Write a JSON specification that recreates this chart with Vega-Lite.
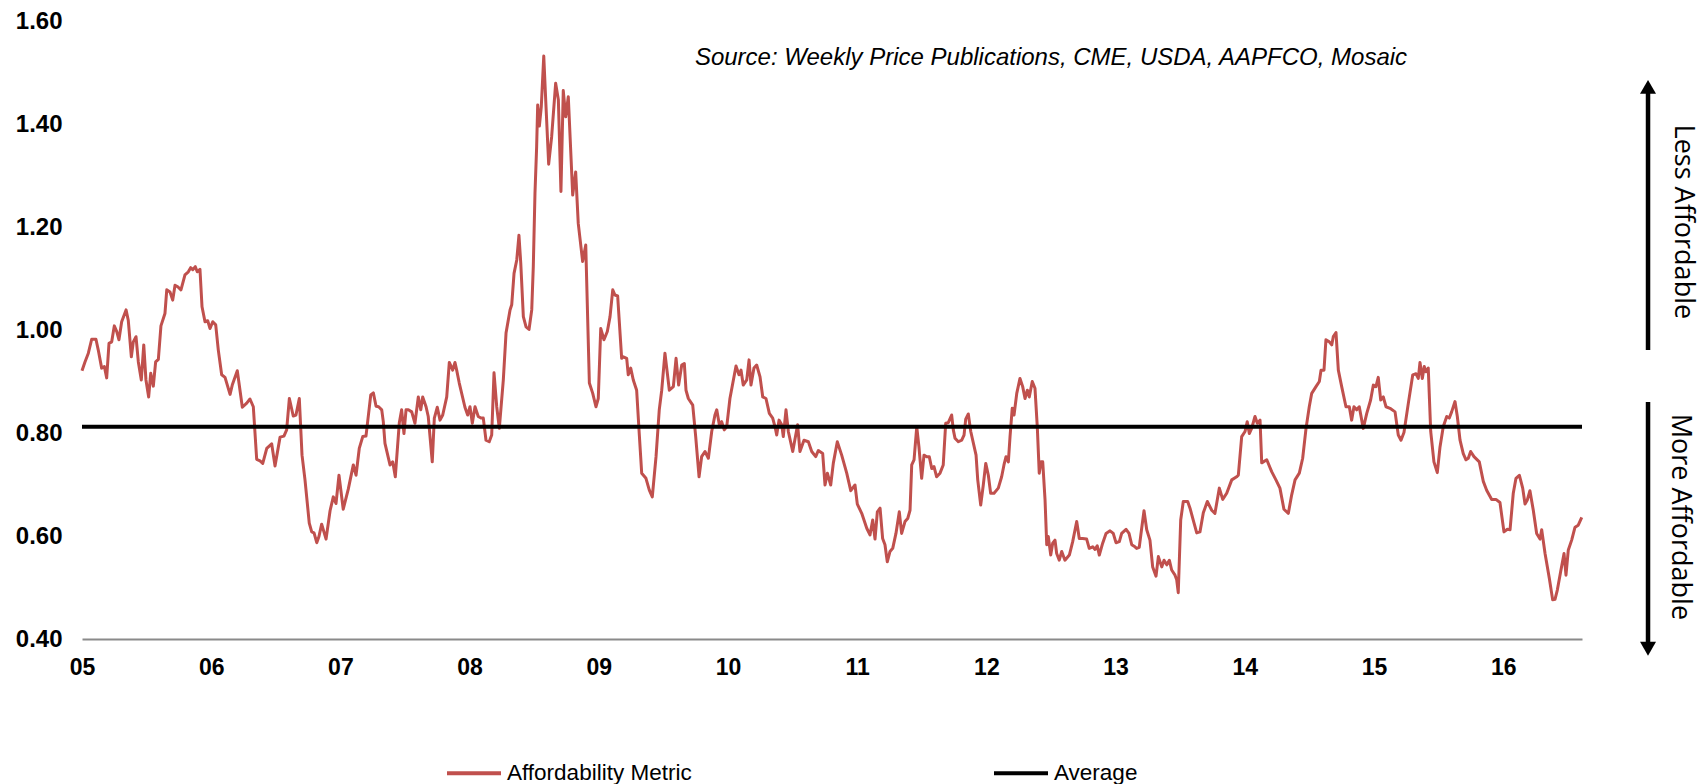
{
  "$schema": "https://vega.github.io/schema/vega-lite/v6.json",
  "autosize": {"type": "none"},
  "padding": {"left": 82, "top": 21, "right": 124, "bottom": 145},
  "width": 1500,
  "height": 618,
  "background": "white",
  "config": {"view": {"stroke": null}},
  "datasets": {
    "metric": [
      {"t":2005.000,"v":0.921},{"t":2005.023,"v":0.938},{"t":2005.049,"v":0.955},{"t":2005.075,"v":0.982},{"t":2005.108,"v":0.982},{"t":2005.126,"v":0.961},{"t":2005.152,"v":0.926},{"t":2005.173,"v":0.929},{"t":2005.191,"v":0.907},{"t":2005.209,"v":0.974},{"t":2005.230,"v":0.977},{"t":2005.250,"v":1.008},{"t":2005.269,"v":0.997},{"t":2005.286,"v":0.981},{"t":2005.307,"v":1.016},{"t":2005.341,"v":1.039},{"t":2005.358,"v":1.019},{"t":2005.382,"v":0.948},{"t":2005.397,"v":0.977},{"t":2005.418,"v":0.987},{"t":2005.436,"v":0.938},{"t":2005.459,"v":0.903},{"t":2005.478,"v":0.971},{"t":2005.495,"v":0.903},{"t":2005.516,"v":0.870},{"t":2005.532,"v":0.916},{"t":2005.552,"v":0.891},{"t":2005.570,"v":0.938},{"t":2005.591,"v":0.943},{"t":2005.611,"v":1.008},{"t":2005.642,"v":1.032},{"t":2005.656,"v":1.078},{"t":2005.681,"v":1.074},{"t":2005.702,"v":1.058},{"t":2005.720,"v":1.087},{"t":2005.741,"v":1.084},{"t":2005.766,"v":1.078},{"t":2005.797,"v":1.107},{"t":2005.823,"v":1.113},{"t":2005.841,"v":1.121},{"t":2005.857,"v":1.117},{"t":2005.877,"v":1.123},{"t":2005.892,"v":1.113},{"t":2005.913,"v":1.118},{"t":2005.929,"v":1.045},{"t":2005.952,"v":1.016},{"t":2005.973,"v":1.018},{"t":2005.991,"v":1.003},{"t":2006.012,"v":1.016},{"t":2006.035,"v":1.010},{"t":2006.055,"v":0.961},{"t":2006.081,"v":0.913},{"t":2006.107,"v":0.908},{"t":2006.146,"v":0.875},{"t":2006.163,"v":0.893},{"t":2006.202,"v":0.921},{"t":2006.241,"v":0.850},{"t":2006.275,"v":0.858},{"t":2006.300,"v":0.866},{"t":2006.326,"v":0.851},{"t":2006.352,"v":0.749},{"t":2006.378,"v":0.746},{"t":2006.399,"v":0.741},{"t":2006.430,"v":0.770},{"t":2006.468,"v":0.779},{"t":2006.494,"v":0.736},{"t":2006.533,"v":0.792},{"t":2006.563,"v":0.794},{"t":2006.584,"v":0.806},{"t":2006.605,"v":0.867},{"t":2006.635,"v":0.833},{"t":2006.656,"v":0.835},{"t":2006.682,"v":0.867},{"t":2006.703,"v":0.757},{"t":2006.726,"v":0.709},{"t":2006.759,"v":0.625},{"t":2006.778,"v":0.608},{"t":2006.796,"v":0.606},{"t":2006.817,"v":0.587},{"t":2006.834,"v":0.599},{"t":2006.855,"v":0.623},{"t":2006.889,"v":0.594},{"t":2006.920,"v":0.649},{"t":2006.945,"v":0.676},{"t":2006.966,"v":0.663},{"t":2006.989,"v":0.718},{"t":2007.022,"v":0.652},{"t":2007.061,"v":0.691},{"t":2007.100,"v":0.738},{"t":2007.121,"v":0.718},{"t":2007.146,"v":0.770},{"t":2007.173,"v":0.793},{"t":2007.198,"v":0.794},{"t":2007.235,"v":0.874},{"t":2007.255,"v":0.878},{"t":2007.276,"v":0.852},{"t":2007.296,"v":0.851},{"t":2007.320,"v":0.845},{"t":2007.332,"v":0.822},{"t":2007.345,"v":0.780},{"t":2007.384,"v":0.738},{"t":2007.405,"v":0.744},{"t":2007.425,"v":0.715},{"t":2007.456,"v":0.820},{"t":2007.474,"v":0.845},{"t":2007.492,"v":0.799},{"t":2007.508,"v":0.845},{"t":2007.526,"v":0.845},{"t":2007.552,"v":0.841},{"t":2007.577,"v":0.819},{"t":2007.603,"v":0.870},{"t":2007.622,"v":0.845},{"t":2007.637,"v":0.870},{"t":2007.663,"v":0.851},{"t":2007.680,"v":0.832},{"t":2007.711,"v":0.744},{"t":2007.727,"v":0.829},{"t":2007.750,"v":0.850},{"t":2007.771,"v":0.825},{"t":2007.792,"v":0.835},{"t":2007.823,"v":0.870},{"t":2007.843,"v":0.937},{"t":2007.869,"v":0.922},{"t":2007.887,"v":0.937},{"t":2007.900,"v":0.922},{"t":2007.920,"v":0.897},{"t":2007.964,"v":0.850},{"t":2007.985,"v":0.835},{"t":2008.003,"v":0.851},{"t":2008.021,"v":0.819},{"t":2008.042,"v":0.851},{"t":2008.067,"v":0.832},{"t":2008.088,"v":0.829},{"t":2008.106,"v":0.829},{"t":2008.127,"v":0.786},{"t":2008.152,"v":0.783},{"t":2008.171,"v":0.796},{"t":2008.189,"v":0.917},{"t":2008.210,"v":0.851},{"t":2008.230,"v":0.809},{"t":2008.261,"v":0.903},{"t":2008.282,"v":0.994},{"t":2008.313,"v":1.039},{"t":2008.326,"v":1.049},{"t":2008.344,"v":1.110},{"t":2008.365,"v":1.136},{"t":2008.382,"v":1.184},{"t":2008.396,"v":1.130},{"t":2008.416,"v":1.026},{"t":2008.437,"v":1.006},{"t":2008.460,"v":1.001},{"t":2008.481,"v":1.039},{"t":2008.493,"v":1.123},{"t":2008.506,"v":1.265},{"t":2008.519,"v":1.356},{"t":2008.527,"v":1.437},{"t":2008.540,"v":1.396},{"t":2008.555,"v":1.434},{"t":2008.574,"v":1.532},{"t":2008.589,"v":1.447},{"t":2008.612,"v":1.322},{"t":2008.635,"v":1.375},{"t":2008.666,"v":1.479},{"t":2008.687,"v":1.447},{"t":2008.707,"v":1.269},{"t":2008.725,"v":1.465},{"t":2008.744,"v":1.414},{"t":2008.764,"v":1.453},{"t":2008.798,"v":1.262},{"t":2008.821,"v":1.307},{"t":2008.841,"v":1.207},{"t":2008.875,"v":1.133},{"t":2008.899,"v":1.165},{"t":2008.927,"v":0.897},{"t":2008.953,"v":0.877},{"t":2008.978,"v":0.851},{"t":2008.996,"v":0.867},{"t":2009.015,"v":1.003},{"t":2009.040,"v":0.981},{"t":2009.066,"v":0.997},{"t":2009.087,"v":1.026},{"t":2009.108,"v":1.078},{"t":2009.125,"v":1.068},{"t":2009.146,"v":1.066},{"t":2009.177,"v":0.945},{"t":2009.190,"v":0.948},{"t":2009.216,"v":0.945},{"t":2009.228,"v":0.913},{"t":2009.247,"v":0.926},{"t":2009.267,"v":0.903},{"t":2009.293,"v":0.883},{"t":2009.313,"v":0.799},{"t":2009.332,"v":0.722},{"t":2009.365,"v":0.712},{"t":2009.391,"v":0.689},{"t":2009.414,"v":0.676},{"t":2009.443,"v":0.754},{"t":2009.468,"v":0.845},{"t":2009.487,"v":0.883},{"t":2009.512,"v":0.955},{"t":2009.546,"v":0.883},{"t":2009.577,"v":0.890},{"t":2009.598,"v":0.945},{"t":2009.618,"v":0.893},{"t":2009.642,"v":0.932},{"t":2009.662,"v":0.935},{"t":2009.675,"v":0.883},{"t":2009.693,"v":0.867},{"t":2009.727,"v":0.854},{"t":2009.750,"v":0.793},{"t":2009.776,"v":0.715},{"t":2009.796,"v":0.754},{"t":2009.822,"v":0.764},{"t":2009.848,"v":0.751},{"t":2009.874,"v":0.803},{"t":2009.899,"v":0.835},{"t":2009.913,"v":0.845},{"t":2009.933,"v":0.816},{"t":2009.951,"v":0.822},{"t":2009.971,"v":0.806},{"t":2009.990,"v":0.812},{"t":2010.015,"v":0.867},{"t":2010.062,"v":0.930},{"t":2010.085,"v":0.913},{"t":2010.101,"v":0.922},{"t":2010.118,"v":0.893},{"t":2010.145,"v":0.903},{"t":2010.163,"v":0.942},{"t":2010.178,"v":0.893},{"t":2010.201,"v":0.926},{"t":2010.222,"v":0.932},{"t":2010.248,"v":0.909},{"t":2010.269,"v":0.870},{"t":2010.294,"v":0.867},{"t":2010.320,"v":0.838},{"t":2010.346,"v":0.829},{"t":2010.364,"v":0.812},{"t":2010.377,"v":0.796},{"t":2010.395,"v":0.825},{"t":2010.416,"v":0.816},{"t":2010.428,"v":0.793},{"t":2010.449,"v":0.845},{"t":2010.467,"v":0.803},{"t":2010.501,"v":0.764},{"t":2010.539,"v":0.816},{"t":2010.557,"v":0.764},{"t":2010.588,"v":0.786},{"t":2010.622,"v":0.783},{"t":2010.648,"v":0.764},{"t":2010.679,"v":0.754},{"t":2010.699,"v":0.766},{"t":2010.733,"v":0.760},{"t":2010.751,"v":0.699},{"t":2010.769,"v":0.722},{"t":2010.795,"v":0.699},{"t":2010.815,"v":0.741},{"t":2010.846,"v":0.783},{"t":2010.880,"v":0.757},{"t":2010.919,"v":0.722},{"t":2010.950,"v":0.688},{"t":2010.983,"v":0.699},{"t":2011.001,"v":0.662},{"t":2011.035,"v":0.644},{"t":2011.074,"v":0.615},{"t":2011.099,"v":0.602},{"t":2011.120,"v":0.631},{"t":2011.138,"v":0.594},{"t":2011.156,"v":0.647},{"t":2011.177,"v":0.654},{"t":2011.197,"v":0.595},{"t":2011.215,"v":0.583},{"t":2011.233,"v":0.550},{"t":2011.254,"v":0.570},{"t":2011.275,"v":0.576},{"t":2011.300,"v":0.605},{"t":2011.326,"v":0.647},{"t":2011.344,"v":0.605},{"t":2011.370,"v":0.628},{"t":2011.391,"v":0.634},{"t":2011.409,"v":0.650},{"t":2011.422,"v":0.738},{"t":2011.440,"v":0.748},{"t":2011.461,"v":0.812},{"t":2011.478,"v":0.773},{"t":2011.499,"v":0.712},{"t":2011.517,"v":0.757},{"t":2011.538,"v":0.754},{"t":2011.558,"v":0.754},{"t":2011.577,"v":0.731},{"t":2011.594,"v":0.735},{"t":2011.615,"v":0.715},{"t":2011.641,"v":0.722},{"t":2011.666,"v":0.738},{"t":2011.685,"v":0.819},{"t":2011.705,"v":0.820},{"t":2011.731,"v":0.835},{"t":2011.744,"v":0.806},{"t":2011.757,"v":0.790},{"t":2011.783,"v":0.783},{"t":2011.809,"v":0.786},{"t":2011.827,"v":0.796},{"t":2011.840,"v":0.827},{"t":2011.860,"v":0.837},{"t":2011.879,"v":0.803},{"t":2011.920,"v":0.757},{"t":2011.933,"v":0.709},{"t":2011.956,"v":0.660},{"t":2011.976,"v":0.699},{"t":2011.995,"v":0.741},{"t":2012.015,"v":0.718},{"t":2012.033,"v":0.683},{"t":2012.059,"v":0.683},{"t":2012.092,"v":0.693},{"t":2012.118,"v":0.715},{"t":2012.136,"v":0.738},{"t":2012.152,"v":0.754},{"t":2012.170,"v":0.744},{"t":2012.183,"v":0.793},{"t":2012.200,"v":0.848},{"t":2012.214,"v":0.835},{"t":2012.235,"v":0.877},{"t":2012.260,"v":0.906},{"t":2012.281,"v":0.890},{"t":2012.299,"v":0.867},{"t":2012.317,"v":0.883},{"t":2012.332,"v":0.870},{"t":2012.355,"v":0.900},{"t":2012.376,"v":0.887},{"t":2012.394,"v":0.812},{"t":2012.409,"v":0.722},{"t":2012.423,"v":0.744},{"t":2012.436,"v":0.744},{"t":2012.454,"v":0.670},{"t":2012.467,"v":0.583},{"t":2012.479,"v":0.599},{"t":2012.498,"v":0.563},{"t":2012.513,"v":0.586},{"t":2012.531,"v":0.592},{"t":2012.544,"v":0.566},{"t":2012.564,"v":0.553},{"t":2012.583,"v":0.570},{"t":2012.608,"v":0.553},{"t":2012.642,"v":0.563},{"t":2012.668,"v":0.589},{"t":2012.699,"v":0.628},{"t":2012.719,"v":0.595},{"t":2012.745,"v":0.595},{"t":2012.776,"v":0.594},{"t":2012.796,"v":0.576},{"t":2012.823,"v":0.579},{"t":2012.841,"v":0.574},{"t":2012.858,"v":0.581},{"t":2012.874,"v":0.563},{"t":2012.900,"v":0.586},{"t":2012.926,"v":0.605},{"t":2012.957,"v":0.610},{"t":2012.982,"v":0.605},{"t":2013.003,"v":0.587},{"t":2013.029,"v":0.589},{"t":2013.047,"v":0.605},{"t":2013.081,"v":0.613},{"t":2013.104,"v":0.605},{"t":2013.125,"v":0.583},{"t":2013.150,"v":0.579},{"t":2013.163,"v":0.576},{"t":2013.183,"v":0.578},{"t":2013.202,"v":0.615},{"t":2013.220,"v":0.649},{"t":2013.241,"v":0.612},{"t":2013.266,"v":0.592},{"t":2013.287,"v":0.540},{"t":2013.313,"v":0.522},{"t":2013.331,"v":0.560},{"t":2013.357,"v":0.540},{"t":2013.375,"v":0.553},{"t":2013.396,"v":0.544},{"t":2013.416,"v":0.553},{"t":2013.434,"v":0.534},{"t":2013.460,"v":0.524},{"t":2013.473,"v":0.515},{"t":2013.485,"v":0.490},{"t":2013.504,"v":0.631},{"t":2013.524,"v":0.667},{"t":2013.558,"v":0.667},{"t":2013.576,"v":0.654},{"t":2013.601,"v":0.631},{"t":2013.628,"v":0.606},{"t":2013.653,"v":0.608},{"t":2013.679,"v":0.645},{"t":2013.710,"v":0.667},{"t":2013.744,"v":0.650},{"t":2013.769,"v":0.644},{"t":2013.803,"v":0.693},{"t":2013.829,"v":0.671},{"t":2013.860,"v":0.683},{"t":2013.899,"v":0.709},{"t":2013.937,"v":0.715},{"t":2013.950,"v":0.718},{"t":2013.976,"v":0.793},{"t":2014.002,"v":0.803},{"t":2014.019,"v":0.822},{"t":2014.035,"v":0.799},{"t":2014.053,"v":0.809},{"t":2014.079,"v":0.832},{"t":2014.097,"v":0.819},{"t":2014.118,"v":0.825},{"t":2014.131,"v":0.742},{"t":2014.170,"v":0.748},{"t":2014.208,"v":0.725},{"t":2014.241,"v":0.709},{"t":2014.272,"v":0.693},{"t":2014.303,"v":0.652},{"t":2014.337,"v":0.644},{"t":2014.363,"v":0.680},{"t":2014.389,"v":0.709},{"t":2014.422,"v":0.722},{"t":2014.448,"v":0.751},{"t":2014.474,"v":0.809},{"t":2014.499,"v":0.851},{"t":2014.518,"v":0.877},{"t":2014.551,"v":0.890},{"t":2014.577,"v":0.900},{"t":2014.590,"v":0.922},{"t":2014.613,"v":0.922},{"t":2014.628,"v":0.981},{"t":2014.654,"v":0.977},{"t":2014.673,"v":0.971},{"t":2014.685,"v":0.987},{"t":2014.706,"v":0.995},{"t":2014.724,"v":0.922},{"t":2014.750,"v":0.890},{"t":2014.783,"v":0.851},{"t":2014.809,"v":0.851},{"t":2014.827,"v":0.825},{"t":2014.845,"v":0.851},{"t":2014.866,"v":0.845},{"t":2014.886,"v":0.851},{"t":2014.917,"v":0.809},{"t":2014.944,"v":0.838},{"t":2014.974,"v":0.864},{"t":2014.995,"v":0.893},{"t":2015.015,"v":0.890},{"t":2015.033,"v":0.908},{"t":2015.052,"v":0.864},{"t":2015.072,"v":0.870},{"t":2015.093,"v":0.851},{"t":2015.124,"v":0.848},{"t":2015.163,"v":0.841},{"t":2015.188,"v":0.796},{"t":2015.209,"v":0.786},{"t":2015.232,"v":0.801},{"t":2015.266,"v":0.858},{"t":2015.300,"v":0.913},{"t":2015.325,"v":0.915},{"t":2015.343,"v":0.906},{"t":2015.356,"v":0.937},{"t":2015.374,"v":0.906},{"t":2015.389,"v":0.929},{"t":2015.402,"v":0.919},{"t":2015.420,"v":0.926},{"t":2015.439,"v":0.803},{"t":2015.464,"v":0.744},{"t":2015.490,"v":0.723},{"t":2015.511,"v":0.773},{"t":2015.536,"v":0.812},{"t":2015.563,"v":0.832},{"t":2015.583,"v":0.829},{"t":2015.601,"v":0.841},{"t":2015.627,"v":0.861},{"t":2015.645,"v":0.832},{"t":2015.666,"v":0.786},{"t":2015.691,"v":0.760},{"t":2015.712,"v":0.748},{"t":2015.730,"v":0.751},{"t":2015.748,"v":0.764},{"t":2015.774,"v":0.754},{"t":2015.815,"v":0.744},{"t":2015.846,"v":0.706},{"t":2015.872,"v":0.689},{"t":2015.911,"v":0.671},{"t":2015.944,"v":0.671},{"t":2015.975,"v":0.665},{"t":2016.006,"v":0.608},{"t":2016.032,"v":0.613},{"t":2016.053,"v":0.612},{"t":2016.078,"v":0.683},{"t":2016.099,"v":0.712},{"t":2016.125,"v":0.718},{"t":2016.151,"v":0.693},{"t":2016.169,"v":0.662},{"t":2016.187,"v":0.670},{"t":2016.207,"v":0.688},{"t":2016.233,"v":0.650},{"t":2016.259,"v":0.605},{"t":2016.285,"v":0.594},{"t":2016.298,"v":0.612},{"t":2016.324,"v":0.566},{"t":2016.357,"v":0.518},{"t":2016.383,"v":0.476},{"t":2016.401,"v":0.477},{"t":2016.419,"v":0.495},{"t":2016.445,"v":0.531},{"t":2016.471,"v":0.566},{"t":2016.486,"v":0.524},{"t":2016.504,"v":0.573},{"t":2016.530,"v":0.592},{"t":2016.556,"v":0.617},{"t":2016.581,"v":0.621},{"t":2016.608,"v":0.636}
    ],
    "average": [
      {"t":2005.0,"v":0.812},{"t":2016.61,"v":0.812}
    ]
  },
  "layer": [
    {
      "data": {"name": "metric"},
      "mark": {"type": "line", "strokeWidth": 3, "strokeJoin": "round", "interpolate": "linear"},
      "encoding": {
        "x": {"field": "t", "type": "quantitative",
          "scale": {"domain": [2005, 2016.61], "nice": false, "zero": false},
          "axis": {"title": null, "values": [2005,2006,2007,2008,2009,2010,2011,2012,2013,2014,2015,2016],
            "labelExpr": "substring('' + datum.value, 2, 4)", "ticks": false, "grid": false,
            "domainColor": "#8a8a8a", "domainWidth": 2, "labelFont": "Liberation Sans", "labelFontWeight": "bold",
            "labelFontSize": 23, "labelColor": "#000000", "labelPadding": 17, "labelFlush": false, "labelOverlap": false}},
        "y": {"field": "v", "type": "quantitative",
          "scale": {"domain": [0.4, 1.6], "nice": false, "zero": false},
          "axis": {"title": null, "values": [0.4,0.6,0.8,1.0,1.2,1.4,1.6], "format": ".2f", "ticks": false,
            "grid": false, "domain": false, "labelFont": "Liberation Sans", "labelFontWeight": "bold",
            "labelFontSize": 24, "labelColor": "#000000", "labelPadding": 20, "labelFlush": false, "labelOverlap": false}},
        "color": {"datum": "Affordability Metric", "type": "nominal",
          "scale": {"domain": ["Affordability Metric", "Average"], "range": ["#C0504D", "#000000"]},
          "legend": {"title": null, "orient": "none", "direction": "horizontal", "legendX": 363, "legendY": 723,
            "symbolType": "stroke", "symbolSize": 2916, "symbolStrokeWidth": 4, "labelFont": "Liberation Sans",
            "labelFontSize": 22.5, "labelColor": "#000000", "labelOffset": 4, "labelLimit": 0, "columnPadding": 294, "padding": 0}}
      }
    },
    {
      "data": {"name": "average"},
      "mark": {"type": "line", "strokeWidth": 4},
      "encoding": {
        "x": {"field": "t", "type": "quantitative"},
        "y": {"field": "v", "type": "quantitative"},
        "color": {"datum": "Average", "type": "nominal"}
      }
    },
    {
      "data": {"values": [{}]},
      "mark": {"type": "text", "font": "Liberation Sans", "fontStyle": "italic", "fontSize": 24, "align": "center", "baseline": "middle", "color": "#000000"},
      "encoding": {
        "x": {"datum": 2012.5, "type": "quantitative"},
        "y": {"datum": 1.528, "type": "quantitative"},
        "text": {"value": "Source: Weekly Price Publications, CME, USDA, AAPFCO, Mosaic"}
      }
    },
    {
      "data": {"values": [{}]},
      "mark": {"type": "rule", "strokeWidth": 4.5, "color": "#000000"},
      "encoding": {
        "x": {"datum": 2017.121, "type": "quantitative"},
        "y": {"datum": 1.466, "type": "quantitative"},
        "y2": {"datum": 0.961}
      }
    },
    {
      "data": {"values": [{}]},
      "mark": {"type": "rule", "strokeWidth": 4.5, "color": "#000000"},
      "encoding": {
        "x": {"datum": 2017.121, "type": "quantitative"},
        "y": {"datum": 0.860, "type": "quantitative"},
        "y2": {"datum": 0.388}
      }
    },
    {
      "data": {"values": [{}]},
      "mark": {"type": "point", "shape": "triangle-up", "filled": true, "size": 256, "color": "#000000", "opacity": 1},
      "encoding": {
        "x": {"datum": 2017.121, "type": "quantitative"},
        "y": {"datum": 1.472, "type": "quantitative"}
      }
    },
    {
      "data": {"values": [{}]},
      "mark": {"type": "point", "shape": "triangle-down", "filled": true, "size": 256, "color": "#000000", "opacity": 1},
      "encoding": {
        "x": {"datum": 2017.121, "type": "quantitative"},
        "y": {"datum": 0.381, "type": "quantitative"}
      }
    },
    {
      "data": {"values": [{}]},
      "mark": {"type": "text", "font": "Open Sans", "fontSize": 27, "angle": 90, "align": "center", "baseline": "middle", "color": "#000000"},
      "encoding": {
        "x": {"datum": 2017.392, "type": "quantitative"},
        "y": {"datum": 1.21, "type": "quantitative"},
        "text": {"value": "Less Affordable"}
      }
    },
    {
      "data": {"values": [{}]},
      "mark": {"type": "text", "font": "Open Sans", "fontSize": 27, "angle": 90, "align": "center", "baseline": "middle", "color": "#000000"},
      "encoding": {
        "x": {"datum": 2017.368, "type": "quantitative"},
        "y": {"datum": 0.637, "type": "quantitative"},
        "text": {"value": "More Affordable"}
      }
    }
  ]
}
